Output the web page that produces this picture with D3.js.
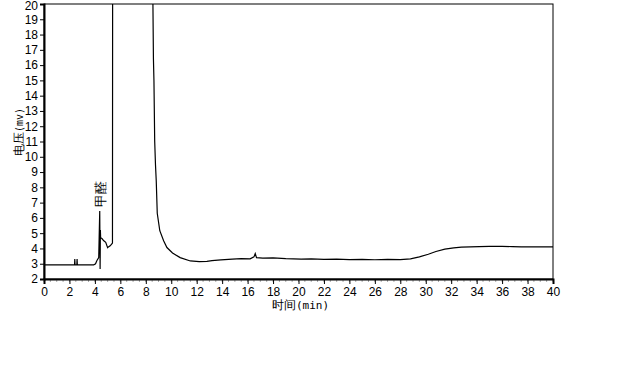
<!DOCTYPE html>
<html>
<head>
<meta charset="utf-8">
<script src="https://cdn.jsdelivr.net/npm/d3@7"></script>
<style>
  body { margin: 0; background: #fff; }
  text { font-family: Arial, "Liberation Sans", sans-serif; }
</style>
</head>
<body>
<script>
// chromatogram trace (time in min, signal in mV)
var times = [0, 2.4, 2.42, 2.44, 2.46, 2.58, 2.6, 2.62, 2.64, 3.9, 4.05, 4.15, 4.3, 4.38, 4.41, 4.43, 4.45,
  4.55, 4.7, 4.85, 5.0, 5.06, 5.2, 5.33, 5.38, 5.4, 8.54, 8.56, 8.6, 8.64, 8.7, 8.76, 8.82, 8.9,
  9.1, 9.4, 9.66, 10.1, 10.7, 11.5, 12.2, 12.8, 13.2, 13.9, 14.8, 15.5, 16.2, 16.5, 16.6,
  16.7, 17.2, 18, 19, 20.2, 21, 22, 23, 24, 25, 26, 27, 28, 28.8, 29.5, 30.2, 30.8, 31.5,
  32.2, 32.8, 33.5, 34.2, 35, 36, 36.8, 37.5, 38.5, 40];
var signal = [2.92, 2.92, 3.3, 2.92, 2.92, 2.92, 3.3, 2.92, 2.92, 2.92, 3.0, 3.2, 3.4, 6.45, 2.65, 5.2, 4.7,
  4.65, 4.5, 4.4, 4.05, 4.1, 4.17, 4.3, 4.35, 30, 30, 20, 16.4, 15, 11, 9.5, 8.45, 6.3,
  5.16, 4.5, 4.06, 3.7, 3.4, 3.18, 3.14, 3.16, 3.2, 3.25, 3.3, 3.34, 3.32, 3.45, 3.66,
  3.4, 3.36, 3.38, 3.33, 3.3, 3.32, 3.28, 3.3, 3.27, 3.29, 3.26, 3.28, 3.27, 3.32, 3.45, 3.62, 3.8, 3.95,
  4.04, 4.08, 4.1, 4.12, 4.13, 4.14, 4.12, 4.1, 4.1, 4.1];

var xTicks = d3.range(0, 41, 2);
var yTicks = d3.range(2, 21, 1);
var peakLabel = "甲醛";
var peakTime = 4.4, peakValue = 6.6;

var w = 640, h = 384;
var margin = {left: 44, right: 87, top: 4, bottom: 105};
var cjk = "'Noto Sans CJK SC', sans-serif";
var mono = "'DejaVu Sans Mono', 'Liberation Mono', monospace";

var svg = d3.select("body").append("svg")
  .attr("width", w)
  .attr("height", h);

var x = d3.scaleLinear().domain([0, 40]).range([margin.left, w - margin.right]);
var y = d3.scaleLinear().domain([2, 20]).range([h - margin.bottom, margin.top]);

// clip so the big solvent peak runs off the top
svg.append("clipPath").attr("id", "plot")
  .append("rect")
  .attr("x", x(0)).attr("y", y(20))
  .attr("width", x(40) - x(0)).attr("height", y(2) - y(20));

// frame: top and right thin
svg.append("rect")
  .attr("x", x(0)).attr("y", y(20))
  .attr("width", x(40) - x(0)).attr("height", y(2) - y(20))
  .attr("fill", "none").attr("stroke", "#000").attr("stroke-width", 1);

// minor x ticks
svg.append("g")
  .selectAll("line")
  .data(d3.range(0, 40.01, 0.5))
  .enter().append("line")
  .attr("x1", function(d) { return x(d); })
  .attr("x2", function(d) { return x(d); })
  .attr("y1", y(2)).attr("y2", y(2) + 3)
  .attr("stroke", "#aaa");

var xAxis = svg.append("g")
  .attr("transform", "translate(0," + y(2) + ")")
  .call(d3.axisBottom(x).tickValues(xTicks).tickSize(5).tickPadding(3).tickFormat(d3.format("d")));
xAxis.select(".domain").attr("stroke-width", 2);
xAxis.selectAll("text").attr("font-size", 12).attr("fill", "#000");

var yAxis = svg.append("g")
  .attr("transform", "translate(" + x(0) + ",0)")
  .call(d3.axisLeft(y).tickValues(yTicks).tickSize(4).tickPadding(2).tickFormat(d3.format("d")));
yAxis.select(".domain").attr("stroke-width", 2);
yAxis.selectAll("text").attr("font-size", 12).attr("fill", "#000");
// keep the top label inside the page
yAxis.selectAll(".tick").filter(function(d) { return d === 20; })
  .select("text").attr("dy", "0.45em");

// trace
var line = d3.line()
  .x(function(d, i) { return x(times[i]); })
  .y(function(d) { return y(d); });

svg.append("path")
  .datum(signal)
  .attr("clip-path", "url(#plot)")
  .attr("d", line)
  .attr("fill", "none")
  .attr("stroke", "#000")
  .attr("stroke-width", 1.2);

// peak label, vertical
svg.append("text")
  .attr("transform", "translate(" + (x(peakTime) + 5) + "," + (y(peakValue) - 2) + ") rotate(-90)")
  .attr("font-size", 13)
  .attr("font-family", cjk)
  .text(peakLabel);

// axis titles
var yt = svg.append("text")
  .attr("transform", "translate(23,156) rotate(-90)")
  .attr("font-size", 12)
  .attr("font-family", cjk);
yt.append("tspan").text("电压");
yt.append("tspan").attr("font-family", mono).attr("font-size", 10).text("(mv)");

var xt = svg.append("text")
  .attr("x", 272)
  .attr("y", y(2) + 30)
  .attr("font-size", 12)
  .attr("font-family", cjk);
xt.append("tspan").text("时间");
xt.append("tspan").attr("font-family", mono).attr("font-size", 11).text("(min)");
</script>
</body>
</html>
